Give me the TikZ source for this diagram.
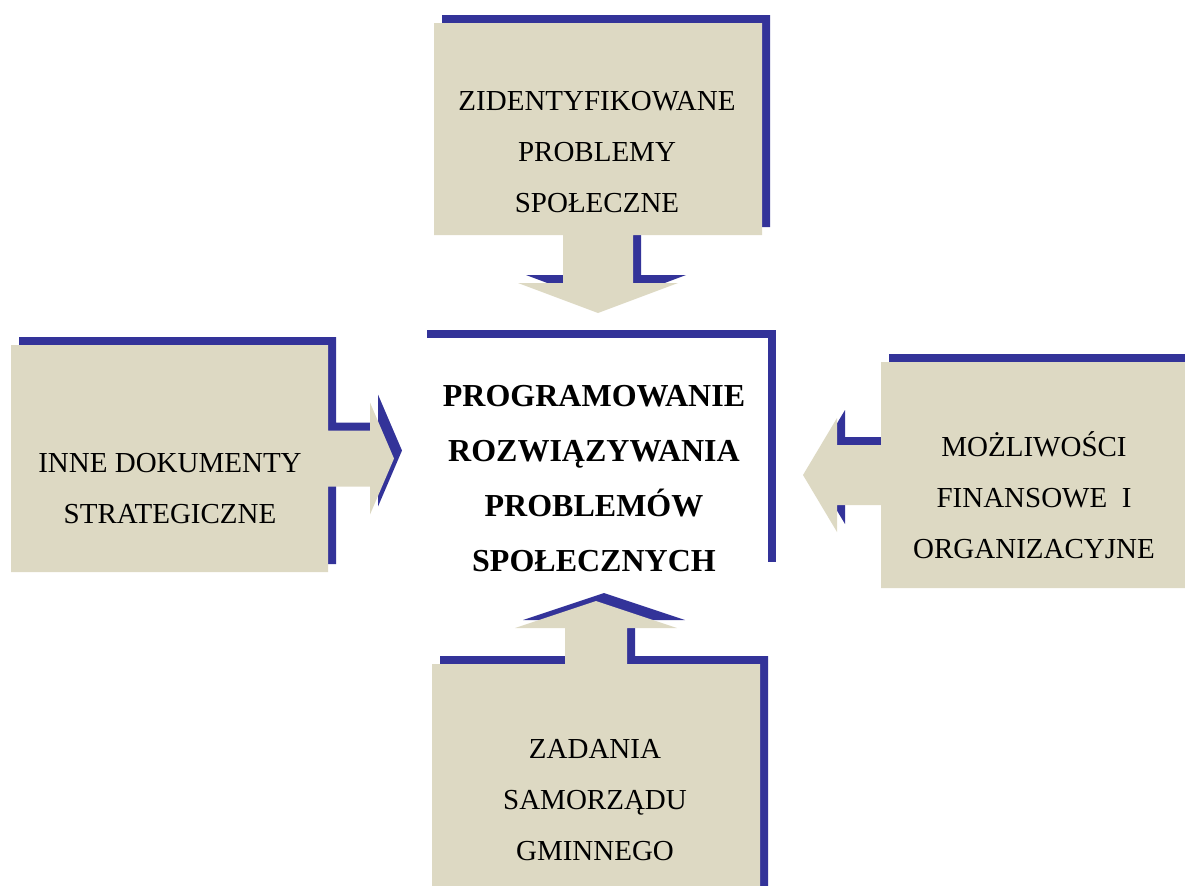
\documentclass[tikz,border=0pt]{standalone}
\usepackage{fontspec}
\setmainfont{Liberation Serif}
\usetikzlibrary{calc,shadows,backgrounds}
\definecolor{panelbg}{HTML}{DDD9C3}
\definecolor{accent}{HTML}{333399}

\begin{document}
\begin{tikzpicture}[x=0.5pt,y=-0.5pt,
  box/.style={inner sep=0pt,outer sep=0pt},
  lbl/.style={align=center,inner sep=0pt,font=\fontsize{14.5}{25.5}\selectfont},
  blueshadow/.style={drop shadow={shadow xshift=4pt,shadow yshift=4pt,fill=accent,opacity=1}}]
\useasboundingbox (0,0) rectangle (1185,885);
% panels, only used for their anchors
\node[box,minimum width=164pt,minimum height=106pt] (zid) at (598,129) {};
\node[box,minimum width=158.5pt,minimum height=113.5pt] (inne) at (169.5,458.5) {};
\node[box,minimum width=153pt,minimum height=113pt] (mozl) at (1034,475) {};
\node[box,minimum width=164pt,minimum height=120pt] (zad) at (596,784) {};
\node[box,fill=white,blueshadow,minimum width=174.5pt,minimum height=116pt] (prog) at (593.5,454) {};
% texts
\node[lbl] (zidl) at (597,152) {ZIDENTYFIKOWANE\\PROBLEMY\\SPOŁECZNE};
\node[lbl] (innel) at (170,489) {INNE DOKUMENTY\\STRATEGICZNE};
\node[lbl] (mozll) at (1034,495) {MOŻLIWOŚCI\\FINANSOWE \ I\\ORGANIZACYJNE};
\node[lbl] (zadl) at (595,800) {ZADANIA\\SAMORZĄDU\\GMINNEGO};
\node[lbl,font=\bfseries\fontsize{16}{27.5}\selectfont] (progl) at (594,479)
  {PROGRAMOWANIE\\ROZWIĄZYWANIA\hspace*{0.34em}\\PROBLEMÓW\\SPOŁECZNYCH};
\begin{scope}[on background layer]
\fill[panelbg,blueshadow] (zid.north west) -- (zid.north east) -- (zid.south east)
  -- ($(zid.south)+(35,0)$) -- ($(zid.south)+(35,48)$) -- ($(zid.south)+(80,48)$)
  -- ($(zid.south)+(0,78)$) -- ($(zid.south)+(-80,48)$) -- ($(zid.south)+(-35,48)$)
  -- ($(zid.south)+(-35,0)$) -- (zid.south west) -- cycle;
\fill[panelbg,blueshadow] (inne.north west) -- (inne.north east)
  -- ($(inne.east)+(0,-28)$) -- ($(inne.east)+(42,-28)$) -- ($(inne.east)+(42,-56)$)
  -- ($(inne.east)+(66,0)$) -- ($(inne.east)+(42,56)$) -- ($(inne.east)+(42,28)$)
  -- ($(inne.east)+(0,28)$) -- (inne.south east) -- (inne.south west) -- cycle;
\fill[panelbg,blueshadow] (mozl.north east) -- (mozl.north west)
  -- ($(mozl.west)+(0,-30)$) -- ($(mozl.west)+(-44,-30)$) -- ($(mozl.west)+(-44,-57)$)
  -- ($(mozl.west)+(-78,0)$) -- ($(mozl.west)+(-44,57)$) -- ($(mozl.west)+(-44,30)$)
  -- ($(mozl.west)+(0,30)$) -- (mozl.south west) -- (mozl.south east) -- cycle;
\fill[panelbg,blueshadow] (zad.south west) -- (zad.north west)
  -- ($(zad.north)+(-31,0)$) -- ($(zad.north)+(-31,-36)$) -- ($(zad.north)+(-81,-36)$)
  -- ($(zad.north)+(0,-63)$) -- ($(zad.north)+(81,-36)$) -- ($(zad.north)+(31,-36)$)
  -- ($(zad.north)+(31,0)$) -- (zad.north east) -- (zad.south east) -- cycle;
\end{scope}
\end{tikzpicture}
\end{document}
